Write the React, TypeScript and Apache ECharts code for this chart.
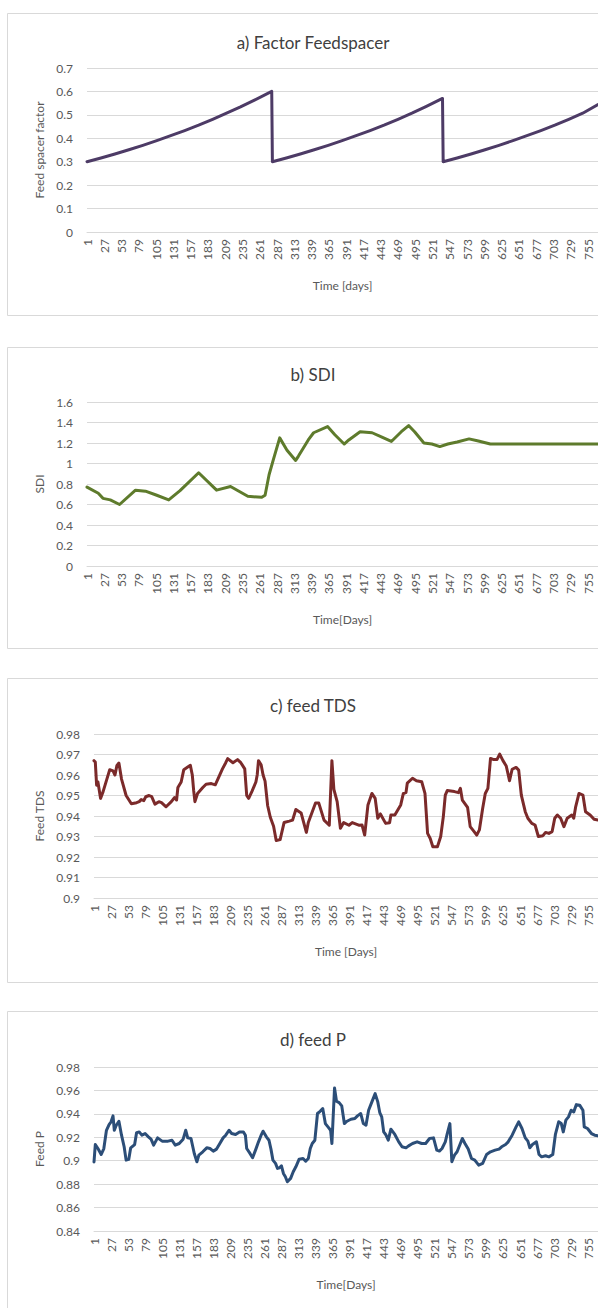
import React, { useEffect, useRef } from "react";
import * as echarts from "echarts";

const DAY_COUNT = 770;
const dayLabels = Array.from({ length: DAY_COUNT }, (_, i) => String(i + 1));

// a) Factor Feedspacer
const spacerDays = [1, 22, 43, 64, 85, 106, 127, 148, 169, 190, 211, 232, 253, 279, 280, 301, 322, 343, 364, 385, 406, 427, 448, 469, 490, 511, 536, 537, 558, 579, 600, 621, 642, 663, 684, 705, 726, 747, 770];
const spacerValues = [0.3, 0.316, 0.333, 0.351, 0.37, 0.39, 0.411, 0.433, 0.456, 0.481, 0.507, 0.534, 0.563, 0.6, 0.3, 0.316, 0.333, 0.351, 0.37, 0.39, 0.411, 0.433, 0.456, 0.481, 0.507, 0.535, 0.57, 0.3, 0.316, 0.333, 0.351, 0.37, 0.39, 0.411, 0.433, 0.456, 0.481, 0.507, 0.544];

// b) SDI
const sdiDays = [1, 18, 25, 36, 50, 74, 89, 106, 124, 141, 169, 196, 217, 243, 264, 269, 275, 282, 291, 302, 315, 319, 334, 342, 363, 374, 388, 395, 412, 430, 444, 459, 474, 485, 494, 508, 520, 532, 544, 558, 576, 590, 608, 770];
const sdiValues = [0.77, 0.71, 0.66, 0.645, 0.6, 0.74, 0.73, 0.69, 0.645, 0.735, 0.91, 0.74, 0.775, 0.68, 0.67, 0.69, 0.89, 1.05, 1.25, 1.13, 1.03, 1.07, 1.23, 1.3, 1.36, 1.28, 1.19, 1.23, 1.31, 1.3, 1.26, 1.215, 1.31, 1.37, 1.31, 1.2, 1.19, 1.165, 1.19, 1.21, 1.24, 1.22, 1.19, 1.19];

// c) feed TDS
const tdsDays = [1, 3, 5, 7, 11, 15, 25, 30, 33, 36, 39, 43, 50, 58, 66, 70, 73, 77, 80, 85, 89, 94, 100, 104, 111, 119, 124, 127, 129, 134, 138, 144, 148, 151, 153, 155, 159, 167, 172, 180, 186, 190, 197, 202, 205, 213, 220, 225, 231, 234, 237, 242, 248, 250, 252, 256, 259, 262, 266, 270, 275, 279, 285, 291, 299, 304, 309, 317, 325, 328, 339, 344, 352, 360, 364, 367, 372, 377, 382, 390, 395, 405, 410, 414, 419, 425, 430, 434, 438, 446, 452, 454, 460, 469, 473, 477, 479, 487, 493, 501, 506, 510, 514, 518, 525, 530, 534, 537, 540, 551, 557, 560, 563, 571, 575, 581, 585, 589, 594, 598, 602, 606, 610, 616, 620, 625, 630, 635, 639, 645, 649, 653, 659, 663, 669, 674, 679, 686, 690, 695, 700, 704, 708, 713, 718, 723, 730, 733, 736, 741, 747, 751, 758, 764, 770];
const tdsValues = [0.967, 0.9663, 0.955, 0.9566, 0.9486, 0.952, 0.9626, 0.962, 0.96, 0.9647, 0.9658, 0.958, 0.95, 0.946, 0.9465, 0.947, 0.948, 0.9475, 0.9494, 0.95, 0.9494, 0.9458, 0.947, 0.9465, 0.9445, 0.947, 0.949, 0.9478, 0.9539, 0.9566, 0.9626, 0.9639, 0.9647, 0.96, 0.9526, 0.947, 0.951, 0.9539, 0.9555, 0.9558, 0.9552, 0.958, 0.963, 0.966, 0.968, 0.966, 0.9675, 0.966, 0.963, 0.95, 0.9486, 0.952, 0.9566, 0.96, 0.967, 0.965, 0.96, 0.957, 0.945, 0.9394, 0.935, 0.928, 0.9285, 0.9368, 0.9375, 0.938, 0.9432, 0.9415, 0.932, 0.9368, 0.9463, 0.9463, 0.938, 0.9355, 0.967, 0.953, 0.947, 0.934, 0.9368, 0.9355, 0.9368, 0.9355, 0.9356, 0.9307, 0.9454, 0.951, 0.9486, 0.9389, 0.941, 0.9364, 0.9367, 0.9405, 0.9405, 0.9454, 0.951, 0.9514, 0.956, 0.9584, 0.9572, 0.9567, 0.951, 0.9315, 0.929, 0.925, 0.925, 0.93, 0.9397, 0.9502, 0.9524, 0.9519, 0.9514, 0.9535, 0.9478, 0.9442, 0.9348, 0.9324, 0.9307, 0.9332, 0.9437, 0.951, 0.9535, 0.9681, 0.9676, 0.9676, 0.9702, 0.967, 0.9644, 0.9572, 0.9628, 0.9637, 0.9624, 0.9502, 0.9421, 0.9389, 0.9364, 0.9356, 0.93, 0.9304, 0.932, 0.9315, 0.9324, 0.9389, 0.9405, 0.9389, 0.9348, 0.9389, 0.9405, 0.9389, 0.9446, 0.951, 0.9502, 0.9421, 0.9405, 0.9384, 0.938];

// d) feed P
const pDays = [1, 3, 7, 12, 16, 20, 24, 27, 30, 32, 35, 39, 43, 47, 50, 54, 57, 63, 66, 70, 74, 79, 84, 88, 92, 98, 105, 114, 120, 125, 131, 137, 141, 144, 149, 154, 158, 161, 167, 173, 178, 183, 188, 193, 198, 202, 207, 211, 217, 223, 229, 232, 234, 239, 243, 248, 252, 256, 259, 264, 268, 271, 274, 278, 281, 284, 287, 290, 293, 296, 301, 305, 309, 314, 320, 324, 328, 331, 334, 338, 342, 346, 350, 354, 358, 362, 364, 368, 371, 375, 379, 383, 387, 393, 399, 403, 408, 412, 416, 420, 425, 430, 434, 437, 440, 443, 446, 450, 454, 460, 466, 471, 477, 481, 487, 494, 501, 507, 513, 519, 524, 528, 532, 537, 540, 544, 547, 551, 555, 560, 563, 567, 572, 577, 582, 588, 594, 600, 606, 613, 619, 623, 629, 633, 639, 645, 649, 654, 659, 663, 666, 670, 676, 680, 684, 690, 695, 701, 705, 710, 714, 717, 721, 725, 729, 733, 737, 742, 747, 749, 754, 760, 765, 770];
const pValues = [0.899, 0.9138, 0.9104, 0.9053, 0.9104, 0.926, 0.9309, 0.9332, 0.9383, 0.926, 0.9303, 0.9337, 0.9218, 0.9119, 0.9005, 0.9011, 0.911, 0.9138, 0.924, 0.9246, 0.9218, 0.9232, 0.9204, 0.9184, 0.9133, 0.9195, 0.9167, 0.9167, 0.9175, 0.9133, 0.9147, 0.9184, 0.926, 0.9195, 0.919, 0.9062, 0.8991, 0.9048, 0.9076, 0.911, 0.9104, 0.9082, 0.9099, 0.9147, 0.9195, 0.9218, 0.926, 0.9232, 0.9224, 0.9246, 0.9246, 0.9218, 0.9104, 0.9062, 0.9025, 0.9099, 0.9161, 0.9218, 0.9252, 0.9204, 0.9175, 0.9099, 0.9005, 0.8977, 0.8934, 0.894, 0.8957, 0.8891, 0.8863, 0.882, 0.8849, 0.8906, 0.8948, 0.9013, 0.9019, 0.8996, 0.9019, 0.9104, 0.9147, 0.9175, 0.9403, 0.9422, 0.9445, 0.9317, 0.9289, 0.926, 0.9147, 0.9621, 0.9508, 0.9496, 0.9468, 0.9317, 0.9337, 0.9354, 0.936, 0.9383, 0.9403, 0.9317, 0.9303, 0.9431, 0.9502, 0.9573, 0.9502, 0.9411, 0.9374, 0.9246, 0.9224, 0.9175, 0.9269, 0.9224, 0.9161, 0.9119, 0.911, 0.9127, 0.9147, 0.9161, 0.9147, 0.9147, 0.919, 0.9195, 0.909, 0.9082, 0.9104, 0.9161, 0.9232, 0.9317, 0.8991, 0.9048, 0.9076, 0.9147, 0.919, 0.9147, 0.9099, 0.9019, 0.9005, 0.8962, 0.8977, 0.9053, 0.9076, 0.909, 0.9099, 0.9119, 0.9138, 0.9161, 0.9218, 0.9289, 0.9332, 0.9275, 0.9195, 0.9167, 0.911, 0.9138, 0.9161, 0.9053, 0.9033, 0.9042, 0.9033, 0.9053, 0.9224, 0.9332, 0.9317, 0.9246, 0.9346, 0.9374, 0.9431, 0.9417, 0.9479, 0.9474, 0.9431, 0.9289, 0.9275, 0.9232, 0.9218, 0.9212];

const FONT = "Lato, 'Open Sans', sans-serif";
const LABEL_COLOR = "#595959";
const GRID_COLOR = "#d9d9d9";

const panels = [
  { title: "a) Factor Feedspacer", yName: "Feed spacer factor", xName: "Time [days]", days: spacerDays, values: spacerValues, color: "#4d3b66", min: 0, max: 0.7, interval: 0.1 },
  { title: "b) SDI", yName: "SDI", xName: "Time[Days]", days: sdiDays, values: sdiValues, color: "#5e7b2c", min: 0, max: 1.6, interval: 0.2 },
  { title: "c) feed TDS", yName: "Feed TDS", xName: "Time [Days]", days: tdsDays, values: tdsValues, color: "#7b2a2a", min: 0.9, max: 0.98, interval: 0.01 },
  { title: "d) feed P", yName: "Feed P", xName: "Time[Days]", days: pDays, values: pValues, color: "#2c4e78", min: 0.84, max: 0.98, interval: 0.02 },
];

const layout = [
  { boxTop: 13, boxBottom: 315, titleY: 40, gridTop: 68, gridLeft: 87 },
  { boxTop: 347, boxBottom: 648, titleY: 372, gridTop: 402, gridLeft: 87 },
  { boxTop: 678, boxBottom: 982, titleY: 703, gridTop: 734, gridLeft: 94 },
  { boxTop: 1011, boxBottom: 1330, titleY: 1037, gridTop: 1067, gridLeft: 94 },
];

export default function App() {
  const ref = useRef<HTMLDivElement>(null);
  useEffect(() => {
    if (!ref.current) return;
    const chart = echarts.init(ref.current, undefined, { renderer: "svg" });
    const option = {
      animation: false,
      backgroundColor: "#ffffff",
      title: panels.map((p, i) => ({
        text: p.title,
        left: 308,
        top: layout[i].titleY - 11,
        textAlign: "center",
        textStyle: { fontSize: 17, fontWeight: "normal", color: "#404040", fontFamily: FONT },
      })),
      graphic: layout.map((l) => ({
        type: "rect",
        silent: true,
        z: -10,
        shape: { x: 7.5, y: l.boxTop + 0.5, width: 620, height: l.boxBottom - l.boxTop },
        style: { fill: "none", stroke: GRID_COLOR, lineWidth: 1 },
      })),
      grid: layout.map((l) => ({ left: l.gridLeft, top: l.gridTop, width: 600 - l.gridLeft, height: 164 })),
      xAxis: panels.map((p, i) => ({
        type: "category",
        gridIndex: i,
        data: dayLabels,
        boundaryGap: false,
        axisLine: { show: true, lineStyle: { color: GRID_COLOR } },
        axisTick: { show: false },
        splitLine: { show: false },
        axisLabel: { interval: 25, rotate: 90, fontSize: 12, color: LABEL_COLOR, fontFamily: FONT, margin: 7 },
        name: p.xName,
        nameLocation: "middle",
        nameGap: 47,
        nameTextStyle: { fontSize: 12, color: LABEL_COLOR, fontFamily: FONT },
      })),
      yAxis: panels.map((p, i) => ({
        type: "value",
        gridIndex: i,
        min: p.min,
        max: p.max,
        interval: p.interval,
        axisLine: { show: false },
        axisTick: { show: false },
        splitLine: { lineStyle: { color: GRID_COLOR, width: 1 } },
        axisLabel: { fontSize: 12, color: LABEL_COLOR, fontFamily: FONT, margin: 14 },
        name: p.yName,
        nameLocation: "middle",
        nameGap: layout[i].gridLeft - 45,
        nameRotate: 90,
        nameTextStyle: { fontSize: 12, color: LABEL_COLOR, fontFamily: FONT },
      })),
      series: panels.map((p, i) => ({
        type: "line",
        xAxisIndex: i,
        yAxisIndex: i,
        showSymbol: false,
        silent: true,
        data: p.days.map((d, k) => [d - 1, p.values[k]]),
        lineStyle: { width: 3, color: p.color, join: "round", cap: "round" },
        itemStyle: { color: p.color },
      })),
    };
    chart.setOption(option as any);
    return () => chart.dispose();
  }, []);
  return (
    <div
      ref={ref}
      style={{ position: "absolute", left: 0, top: 0, width: 598, height: 1308, overflow: "hidden" }}
    />
  );
}
